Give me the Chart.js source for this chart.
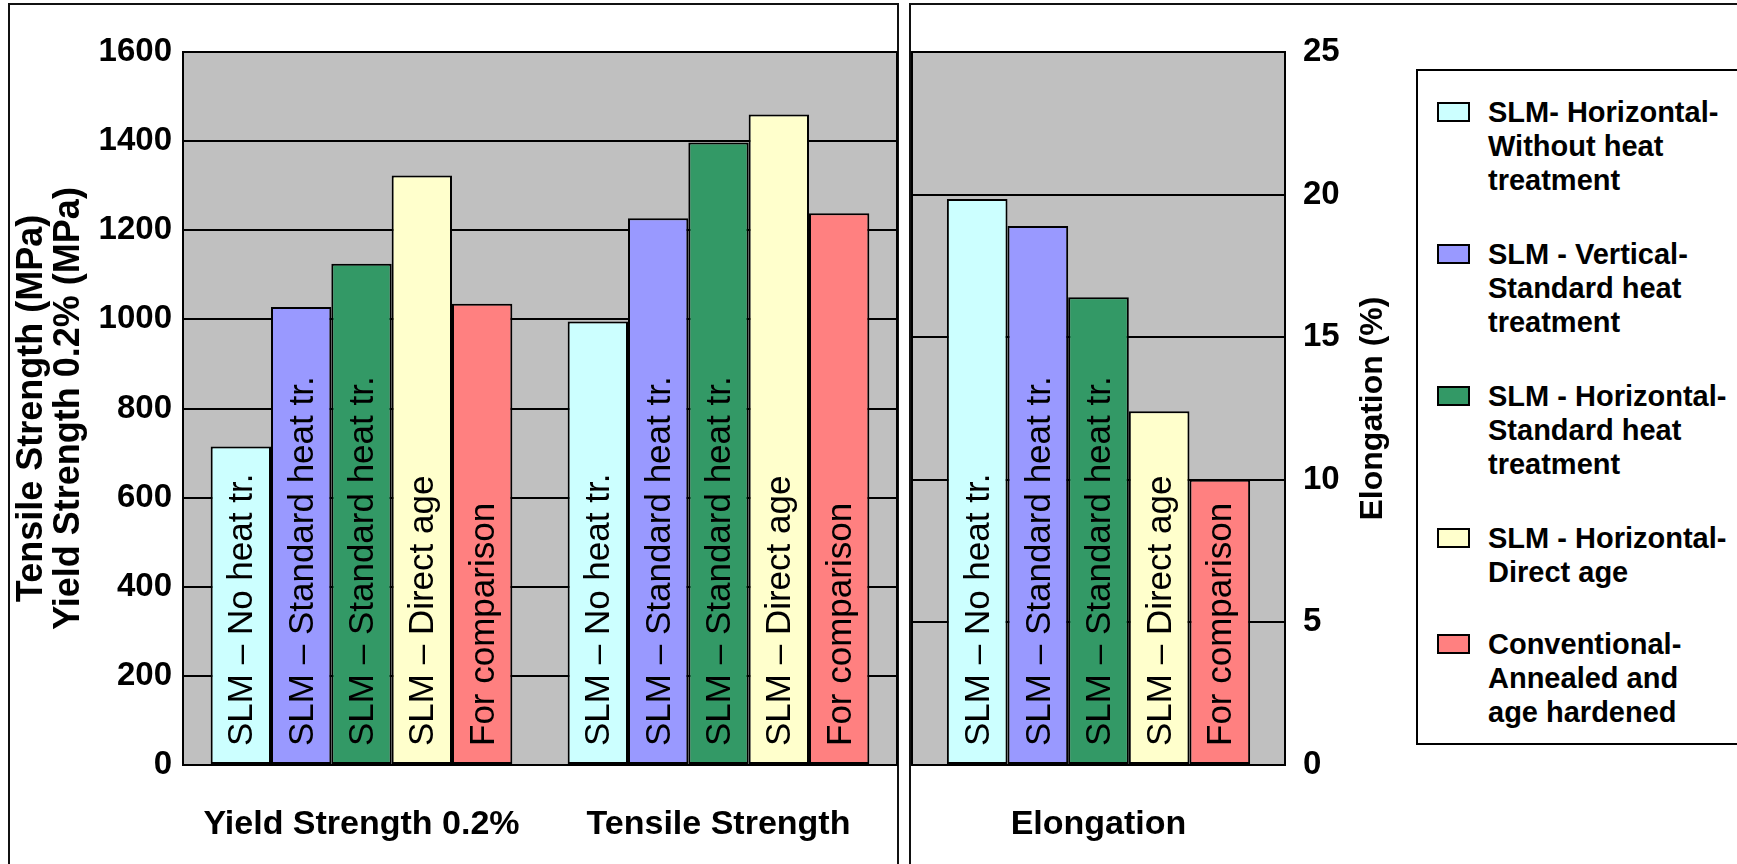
<!DOCTYPE html>
<html>
<head>
<meta charset="utf-8">
<script src="https://cdn.jsdelivr.net/npm/chart.js@4.4.1/dist/chart.umd.min.js"></script>
<style>
body { margin:0; background:#fff; width:1737px; height:864px; overflow:hidden; position:relative; font-family:"Liberation Sans", Arial, sans-serif; }
.panel { position:absolute; border:2px solid #111; border-bottom:none; box-sizing:border-box; }
#p1 { left:8px; top:3px; width:891px; height:880px; }
#p2 { left:909px; top:3px; width:860px; height:880px; }
#c1wrap { position:absolute; left:0; top:0; width:899px; height:864px; }
#c2wrap { position:absolute; left:898px; top:0; width:502px; height:864px; }
#legend { position:absolute; left:1416px; top:69px; width:340px; height:676px; border:2px solid #000; box-sizing:border-box; background:#fff; }
.item { position:relative; padding-left:70px; margin-top:0; font-weight:bold; font-size:29px; line-height:34px; white-space:pre-line; color:#000; }
.swatch { position:absolute; left:19px; top:7px; width:29px; height:16px; border:2px solid #000; }
</style>
</head>
<body>
<div class="panel" id="p1"></div>
<div class="panel" id="p2"></div>
<div id="c1wrap"><canvas id="strength"></canvas></div>
<div id="c2wrap"><canvas id="elong"></canvas></div>
<div id="legend"></div>
<script>
// categories
var strengthGroups = ['Yield Strength 0.2%', 'Tensile Strength'];
var elongGroups = ['Elongation'];

// series values (MPa): [yield, tensile]
var noHeat = [715, 995];
var vertStd = [1028, 1227];
var horStd = [1125, 1397];
var directAge = [1323, 1460];
var conventional = [1035, 1238];

// elongation (%) per series
var elongation = [19.85, 18.9, 16.4, 12.4, 10.0];

var seriesNames = [
  'SLM- Horizontal-\nWithout heat\ntreatment',
  'SLM - Vertical-\nStandard heat\ntreatment',
  'SLM - Horizontal-\nStandard heat\ntreatment',
  'SLM - Horizontal-\nDirect age',
  'Conventional-\nAnnealed and\nage hardened'
];
var barText = ['SLM \u2013 No heat tr.', 'SLM \u2013 Standard heat tr.', 'SLM \u2013 Standard heat tr.', 'SLM \u2013 Direct age', 'For comparison'];
var colors = ['#CCFFFF', '#9999FF', '#339966', '#FFFFCC', '#FF8080'];

var strengthTicks = [0, 200, 400, 600, 800, 1000, 1200, 1400, 1600];
var elongTicks = [0, 5, 10, 15, 20, 25];

var FONT = '"Liberation Sans", Arial, sans-serif';

// grey plot background and black frame
var plotFrame = {
  id: 'plotFrame',
  beforeDraw: function(chart) {
    var a = chart.chartArea, ctx = chart.ctx;
    ctx.save();
    ctx.fillStyle = '#C0C0C0';
    ctx.fillRect(a.left, a.top, a.right - a.left, a.bottom - a.top);
    ctx.restore();
  },
  afterDatasetsDraw: function(chart) {
    var a = chart.chartArea, ctx = chart.ctx;
    ctx.save();
    ctx.strokeStyle = '#000';
    ctx.lineWidth = 2;
    ctx.strokeRect(a.left, a.top, a.right - a.left, a.bottom - a.top);
    ctx.restore();
  }
};

// rotated text inside each bar
var barLabels = {
  id: 'barLabels',
  afterDatasetsDraw: function(chart) {
    var ctx = chart.ctx;
    ctx.save();
    ctx.font = '35px ' + FONT;
    ctx.fillStyle = '#000';
    ctx.textAlign = 'left';
    ctx.textBaseline = 'middle';
    chart.data.datasets.forEach(function(ds, i) {
      chart.getDatasetMeta(i).data.forEach(function(bar) {
        ctx.save();
        ctx.translate(bar.x + 2, bar.base - 18);
        ctx.rotate(-Math.PI / 2);
        ctx.fillText(barText[i], 0, 0);
        ctx.restore();
      });
    });
    ctx.restore();
  }
};

// right axis title reads bottom to top
var elongTitle = {
  id: 'elongTitle',
  afterDraw: function(chart) {
    var a = chart.chartArea, ctx = chart.ctx;
    ctx.save();
    ctx.font = 'bold 32px ' + FONT;
    ctx.fillStyle = '#000';
    ctx.textAlign = 'center';
    ctx.textBaseline = 'middle';
    ctx.translate(475, (a.top + a.bottom) / 2);
    ctx.rotate(-Math.PI / 2);
    ctx.fillText('Elongation (%)', 0, 0);
    ctx.restore();
  }
};

function makeSets(valueLists) {
  return valueLists.map(function(v, i) {
    return {
      label: seriesNames[i],
      data: v,
      backgroundColor: colors[i],
      borderColor: '#000',
      borderWidth: 2,
      borderSkipped: false
    };
  });
}

function plainTick(v) { return String(v); }

var strengthChart = new Chart(document.getElementById('strength'), {
  type: 'bar',
  data: {
    labels: strengthGroups,
    datasets: makeSets([noHeat, vertStd, horStd, directAge, conventional])
  },
  options: {
    responsive: true,
    maintainAspectRatio: false,
    animation: false,
    layout: { padding: { top: 52, right: 2, left: 0, bottom: 0 } },
    datasets: { bar: { barPercentage: 1, categoryPercentage: 0.845 } },
    plugins: { legend: { display: false }, tooltip: { enabled: false } },
    scales: {
      x: {
        grid: { display: false },
        border: { display: false },
        ticks: { color: '#000', font: { family: FONT, size: 34, weight: 'bold' }, padding: 31 },
        afterFit: function(s) { s.height = 99; }
      },
      y: {
        min: 0, max: 1600,
        afterBuildTicks: function(s) { s.ticks = strengthTicks.map(function(v) { return { value: v }; }); },
        grid: { color: '#000', lineWidth: 2, drawTicks: false },
        border: { display: false },
        ticks: { color: '#000', font: { family: FONT, size: 33, weight: 'bold' }, padding: 11, callback: plainTick },
        title: {
          display: true,
          text: ['Tensile Strength (MPa)', 'Yield Strength 0.2% (MPa)'],
          color: '#000',
          font: { family: FONT, size: 36, weight: 'bold', lineHeight: 1.02 },
          padding: { top: 14, bottom: 0 }
        },
        afterFit: function(s) { s.width = 183; }
      }
    }
  },
  plugins: [plotFrame, barLabels]
});

var elongChart = new Chart(document.getElementById('elong'), {
  type: 'bar',
  data: {
    labels: elongGroups,
    datasets: makeSets(elongation.map(function(v) { return [v]; }))
  },
  options: {
    responsive: true,
    maintainAspectRatio: false,
    animation: false,
    layout: { padding: { top: 52, right: 0, left: 14, bottom: 0 } },
    datasets: { bar: { barPercentage: 1, categoryPercentage: 0.813 } },
    plugins: { legend: { display: false }, tooltip: { enabled: false } },
    scales: {
      x: {
        grid: { display: false },
        border: { display: false },
        ticks: { color: '#000', font: { family: FONT, size: 34, weight: 'bold' }, padding: 31 },
        afterFit: function(s) { s.height = 99; }
      },
      y: {
        position: 'right',
        min: 0, max: 25,
        afterBuildTicks: function(s) { s.ticks = elongTicks.map(function(v) { return { value: v }; }); },
        grid: { color: '#000', lineWidth: 2, drawTicks: false },
        border: { display: false },
        ticks: { color: '#000', font: { family: FONT, size: 33, weight: 'bold' }, padding: 18, callback: plainTick },
        afterFit: function(s) { s.width = 115; }
      }
    }
  },
  plugins: [plotFrame, barLabels, elongTitle]
});

// html legend built from the chart's datasets
var legendBox = document.getElementById('legend');
var tops = [24, 166, 308, 450, 556];
strengthChart.data.datasets.forEach(function(ds, i) {
  var item = document.createElement('div');
  item.className = 'item';
  item.style.position = 'absolute';
  item.style.top = tops[i] + 'px';
  item.textContent = ds.label;
  var sw = document.createElement('span');
  sw.className = 'swatch';
  sw.style.background = ds.backgroundColor;
  item.appendChild(sw);
  legendBox.appendChild(item);
});
</script>
</body>
</html>
